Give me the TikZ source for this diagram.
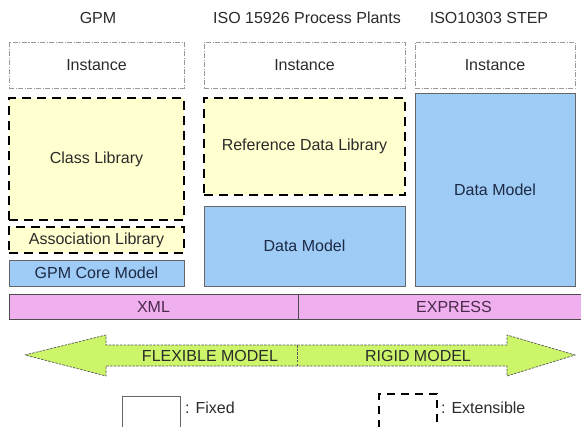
\documentclass[tikz,border=0pt]{standalone}
\usepackage{fontspec}
\setmainfont{Liberation Sans}
\usetikzlibrary{calc}
\definecolor{ylw}{HTML}{FFFFCF}
\definecolor{blu}{HTML}{9FCBF7}
\definecolor{pnk}{HTML}{F0B0F0}
\definecolor{grn}{HTML}{CCF56A}
\definecolor{txt}{HTML}{2B2B2B}
\definecolor{navy}{HTML}{1C2A44}
\definecolor{purp}{HTML}{4A2A4A}
\tikzset{
  every node/.style={font=\fontsize{16}{19}\selectfont, text=txt, inner sep=0pt},
  inst/.style={draw=gray!80, line width=0.7pt, dash pattern=on 5pt off 1.5pt on 1pt off 1.5pt, fill=white},
  ext/.style={draw=black, line width=2.4pt, dash pattern=on 9pt off 6pt, fill=ylw},
  fixd/.style={draw=gray!80!black, line width=0.8pt, fill=blu, text=navy},
  lang/.style={draw=gray!60!black, line width=0.8pt, fill=pnk, text=purp},
}
\begin{document}
\begin{tikzpicture}[x=1pt,y=-1pt]
\useasboundingbox (0,0) rectangle (581,426);
\clip (0,0) rectangle (581,426);
\fill[white] (0,0) rectangle (581,426);
% headings
\node (h1) at (98,18) {GPM};
\node (h2) at (307,18) {ISO 15926 Process Plants};
\node (h3) at (489,18) {ISO10303 STEP};
% instance boxes
\node[inst, minimum width=175pt, minimum height=46pt] (i1) at (96.5,65) {Instance};
\node[inst, minimum width=201pt, minimum height=46pt] (i2) at (304.5,65) {Instance};
\node[inst, minimum width=160pt, minimum height=46pt] (i3) at (495,65) {Instance};
% GPM column
\node[ext, minimum width=175pt, minimum height=122pt] (cl) at (96.5,159) {Class Library};
\node[ext, minimum width=175pt, minimum height=26pt] (al) at (96.5,240) {Association Library};
\node[fixd, minimum width=175pt, minimum height=26pt] (gc) at (96.5,273) {GPM Core Model};
% ISO 15926 column
\node[ext, minimum width=201pt, minimum height=97pt] (rdl) at (304.5,146.5) {Reference Data Library};
\node[fixd, minimum width=201pt, minimum height=80pt] (dm2) at (304.5,246) {Data Model};
% STEP column
\node[fixd, minimum width=160pt, minimum height=193pt] (dm3) at (495,189.5) {Data Model};
% language bar
\node[lang, minimum width=289pt, minimum height=25pt] (xml) at (153.5,306.5) {XML};
\node[lang, minimum width=312pt, minimum height=25pt] (exp) at (454,306.5) {EXPRESS};
% double arrow
\path[fill=grn, draw=gray!70!black, line width=0.7pt, dash pattern=on 2.5pt off 1.2pt]
  (25,355) -- (106,335) -- (106,345) -- (507,345) -- (507,335) -- (575,355)
  -- (507,376) -- (507,366) -- (106,366) -- (106,376) -- cycle;
\coordinate (dt) at (297,345);
\coordinate (db) at (297,366);
\draw[draw=gray!70!black, line width=0.7pt, dash pattern=on 2.5pt off 1.2pt] (dt) -- (db);
\node (flex) at (210,356) {FLEXIBLE MODEL};
\node (rigid) at (418,356) {RIGID MODEL};
% legend
\node[draw=gray!80!black, line width=0.8pt, fill=white, minimum width=58pt, minimum height=40pt] (lf) at (151,416) {};
\node[anchor=west] (lft) at (185,408) {: Fixed};
\node[draw=black, line width=2.2pt, dash pattern=on 8pt off 6pt, fill=white, minimum width=58pt, minimum height=40pt] (le) at (408,414) {};
\node[anchor=west] (let) at (441,408) {: Extensible};
\end{tikzpicture}
\end{document}
